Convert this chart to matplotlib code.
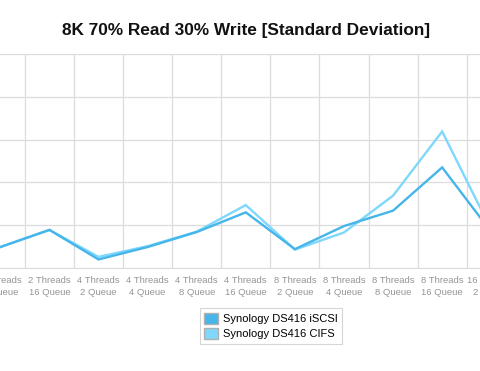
import numpy as np
import matplotlib
matplotlib.use('Agg')
import matplotlib.pyplot as plt
from matplotlib.patches import Patch

plt.rcParams['font.family'] = ['Liberation Sans', 'DejaVu Sans']

# categories visible in the (cropped) chart
labels = ['2 Threads\n8 Queue', '2 Threads\n16 Queue', '4 Threads\n2 Queue', '4 Threads\n4 Queue',
          '4 Threads\n8 Queue', '4 Threads\n16 Queue', '8 Threads\n2 Queue', '8 Threads\n4 Queue',
          '8 Threads\n8 Queue', '8 Threads\n16 Queue', '16 Threads\n2 Queue']
iscsi = [0.49, 0.89, 0.20, 0.49, 0.84, 1.30, 0.44, 0.98, 1.34, 2.35, 0.84]
cifs  = [0.49, 0.89, 0.26, 0.51, 0.85, 1.47, 0.43, 0.83, 1.69, 3.19, 0.89]

c_iscsi = '#45b5ea'
c_cifs = '#7fd8fb'

fig = plt.figure(figsize=(4.8, 3.71), dpi=100)
# axes deliberately runs past the figure edges (reference is cropped)
ax = fig.add_axes([-24.2/480, 103/371, 540/480, 214/371])
x = np.arange(len(labels))
ax.plot(x, iscsi, color=c_iscsi, lw=1.7, zorder=3, solid_joinstyle='miter')
ax.plot(x, cifs, color=c_cifs, lw=1.7, zorder=2, solid_joinstyle='miter')

ax.set_xlim(-0.5, len(labels)-0.5)
ax.set_ylim(0, 5)
ax.set_xticks(x)
ax.set_xticklabels(labels, fontsize=6.8, color='#959595', linespacing=1.35)
ax.set_xticks(np.arange(-0.5, len(labels), 1), minor=True)
ax.set_yticks(np.arange(0, 6, 1))
ax.set_yticklabels([])
ax.tick_params(axis='both', which='both', length=0, pad=6)
ax.grid(True, which='minor', axis='x', color='#dcdcdc', lw=0.9)
ax.grid(True, which='major', axis='y', color='#dcdcdc', lw=0.9)
for s in ['top', 'right', 'left']:
    ax.spines[s].set_visible(False)
ax.spines['bottom'].set_color('#dcdcdc')
ax.set_axisbelow(True)

fig.text(246.5/480, 1 - 31/371, '8K 70% Read 30% Write [Standard Deviation]', ha='center', va='center',
         fontsize=12.4, fontweight='bold', color='#111111')

handles = [Patch(facecolor=c_iscsi, edgecolor='#b0b0b0', label='Synology DS416 iSCSI'),
           Patch(facecolor=c_cifs, edgecolor='#b0b0b0', label='Synology DS416 CIFS')]
leg = fig.legend(handles=handles, loc='center', bbox_to_anchor=(271/480, 1 - 326/371), fontsize=8,
                 frameon=True, fancybox=False, edgecolor='#cccccc', handlelength=1.2, handleheight=1.2,
                 handletextpad=0.5, borderpad=0.4, labelspacing=0.3)
leg.get_frame().set_linewidth(0.8)

fig.savefig('out.png', dpi=100)
